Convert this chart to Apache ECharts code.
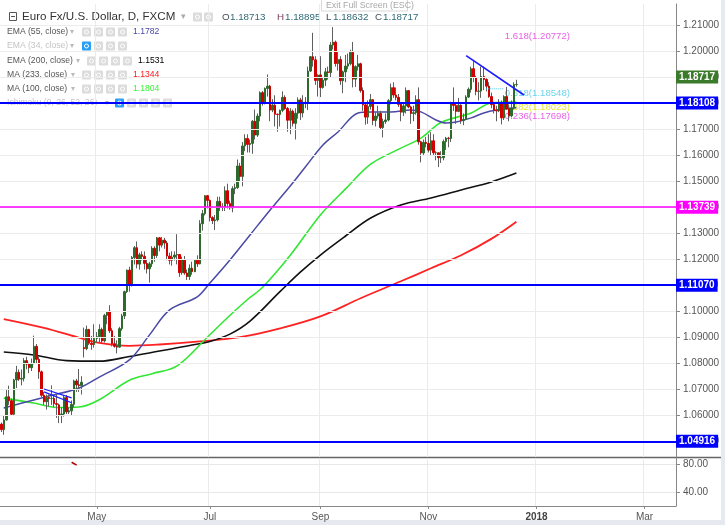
<!DOCTYPE html>
<html><head><meta charset="utf-8">
<script src="https://cdn.jsdelivr.net/npm/echarts@6/dist/echarts.min.js"></script>
<style>html,body{margin:0;padding:0;background:#fff;}#c{width:725px;height:525px;}</style>
</head><body><div id="c"></div>
<script>
// ---------- data ----------
const startDate = [2017, 2, 8];   // first weekday slot (Mar 8, 2017)
const totalSlots = 269;           // weekday slots up to mid-March 2018
// daily candles [open, high, low, close]
const candles = [
[1.0566,1.0572,1.0536,1.0545],[1.0545,1.0600,1.0525,1.0582],[1.0582,1.0699,1.0580,1.0671],[1.0671,1.0714,1.0640,1.0656],[1.0656,1.0664,1.0600,1.0604],
[1.0604,1.0740,1.0600,1.0736],[1.0736,1.0790,1.0705,1.0765],[1.0765,1.0776,1.0732,1.0739],[1.0739,1.0776,1.0715,1.0742],[1.0742,1.0820,1.0730,1.0810],
[1.0810,1.0825,1.0777,1.0797],[1.0797,1.0802,1.0762,1.0783],[1.0783,1.0818,1.0770,1.0799],[1.0799,1.0906,1.0796,1.0865],[1.0865,1.0874,1.0800,1.0815],
[1.0815,1.0825,1.0740,1.0767],[1.0767,1.0772,1.0670,1.0677],[1.0677,1.0690,1.0640,1.0652],[1.0652,1.0680,1.0622,1.0668],[1.0668,1.0680,1.0634,1.0665],
[1.0665,1.0715,1.0640,1.0665],[1.0665,1.0678,1.0632,1.0645],[1.0645,1.0680,1.0590,1.0642],[1.0640,1.0645,1.0570,1.0600],[1.0600,1.0630,1.0570,1.0605],
[1.0605,1.0677,1.0595,1.0668],[1.0668,1.0678,1.0605,1.0613],[1.0613,1.0630,1.0605,1.0617],[1.0617,1.0657,1.0598,1.0642],[1.0642,1.0737,1.0630,1.0732],
[1.0732,1.0740,1.0690,1.0717],[1.0717,1.0778,1.0690,1.0714],[1.0714,1.0750,1.0680,1.0727],[1.0860,1.0937,1.0822,1.0856],[1.0856,1.0945,1.0850,1.0930],
[1.0930,1.0932,1.0870,1.0877],[1.0877,1.0905,1.0852,1.0872],[1.0872,1.0950,1.0860,1.0895],[1.0895,1.0920,1.0880,1.0902],[1.0902,1.0950,1.0880,1.0930],
[1.0930,1.0937,1.0874,1.0886],[1.0886,1.0990,1.0880,1.0984],[1.0984,1.1000,1.0950,1.0996],[1.1000,1.1023,1.0916,1.0925],[1.0925,1.0935,1.0865,1.0875],
[1.0875,1.0905,1.0860,1.0865],[1.0865,1.0888,1.0838,1.0862],[1.0862,1.0940,1.0860,1.0933],[1.0933,1.0990,1.0925,1.0982],[1.0982,1.1079,1.0970,1.1075],
[1.1075,1.1160,1.1070,1.1158],[1.1158,1.1171,1.1075,1.1101],[1.1101,1.1212,1.1095,1.1206],[1.1206,1.1250,1.1180,1.1244],[1.1244,1.1268,1.1165,1.1181],
[1.1181,1.1225,1.1160,1.1217],[1.1217,1.1230,1.1195,1.1211],[1.1211,1.1230,1.1160,1.1184],[1.1184,1.1200,1.1145,1.1163],[1.1163,1.1190,1.1110,1.1182],
[1.1182,1.1250,1.1170,1.1242],[1.1242,1.1250,1.1190,1.1214],[1.1214,1.1285,1.1205,1.1282],[1.1282,1.1285,1.1230,1.1254],[1.1254,1.1285,1.1245,1.1273],
[1.1273,1.1282,1.1240,1.1262],[1.1262,1.1270,1.1196,1.1212],[1.1212,1.1225,1.1180,1.1196],[1.1196,1.1230,1.1175,1.1208],[1.1208,1.1230,1.1195,1.1216],
[1.1216,1.1296,1.1180,1.1218],[1.1218,1.1220,1.1132,1.1148],[1.1148,1.1210,1.1140,1.1197],[1.1197,1.1212,1.1140,1.1147],[1.1147,1.1160,1.1120,1.1133],
[1.1133,1.1180,1.1120,1.1165],[1.1165,1.1190,1.1140,1.1152],[1.1152,1.1200,1.1150,1.1196],[1.1196,1.1215,1.1170,1.1182],[1.1182,1.1350,1.1180,1.1336],
[1.1336,1.1389,1.1310,1.1375],[1.1375,1.1445,1.1368,1.1444],[1.1444,1.1446,1.1395,1.1426],[1.1426,1.1430,1.1345,1.1360],[1.1360,1.1365,1.1335,1.1348],
[1.1348,1.1370,1.1312,1.1351],[1.1351,1.1440,1.1345,1.1422],[1.1422,1.1440,1.1385,1.1399],[1.1399,1.1415,1.1385,1.1399],[1.1399,1.1480,1.1385,1.1463],
[1.1463,1.1490,1.1395,1.1414],[1.1414,1.1425,1.1390,1.1397],[1.1397,1.1480,1.1380,1.1471],[1.1471,1.1490,1.1450,1.1475],[1.1475,1.1583,1.1470,1.1558],
[1.1558,1.1570,1.1500,1.1518],[1.1518,1.1650,1.1480,1.1635],[1.1635,1.1680,1.1615,1.1664],[1.1664,1.1680,1.1610,1.1641],[1.1641,1.1660,1.1610,1.1645],
[1.1645,1.1735,1.1605,1.1730],[1.1730,1.1775,1.1660,1.1677],[1.1677,1.1760,1.1670,1.1750],[1.1750,1.1845,1.1730,1.1840],[1.1840,1.1846,1.1790,1.1802],
[1.1802,1.1860,1.1795,1.1856],[1.1856,1.1910,1.1825,1.1865],[1.1865,1.1870,1.1730,1.1773],[1.1773,1.1815,1.1765,1.1792],[1.1792,1.1830,1.1710,1.1757],
[1.1757,1.1760,1.1690,1.1756],[1.1756,1.1775,1.1710,1.1772],[1.1772,1.1845,1.1765,1.1822],[1.1822,1.1830,1.1774,1.1779],[1.1779,1.1785,1.1690,1.1734],
[1.1734,1.1780,1.1680,1.1769],[1.1769,1.1775,1.1710,1.1722],[1.1722,1.1780,1.1660,1.1761],[1.1761,1.1822,1.1740,1.1812],[1.1812,1.1820,1.1735,1.1762],
[1.1762,1.1830,1.1745,1.1803],[1.1803,1.1823,1.1780,1.1798],[1.1798,1.1940,1.1773,1.1923],[1.1923,1.1980,1.1920,1.1978],[1.1978,1.2070,1.1940,1.1966],
[1.1966,1.1980,1.1870,1.1887],[1.1887,1.1910,1.1825,1.1908],[1.1908,1.1980,1.1823,1.1860],[1.1860,1.1900,1.1855,1.1888],[1.1888,1.1935,1.1865,1.1920],
[1.1920,1.1940,1.1890,1.1917],[1.1917,1.2035,1.1900,1.2023],[1.2023,1.2092,1.2006,1.2034],[1.2034,1.2040,1.1940,1.1952],[1.1952,1.1998,1.1925,1.1967],
[1.1967,1.1980,1.1870,1.1886],[1.1886,1.1925,1.1838,1.1920],[1.1920,1.1985,1.1880,1.1942],[1.1942,1.1990,1.1930,1.1951],[1.1951,1.2005,1.1945,1.1995],
[1.1995,1.2035,1.1860,1.1892],[1.1892,1.1945,1.1862,1.1940],[1.1940,1.1985,1.1925,1.1951],[1.1951,1.1955,1.1840,1.1848],[1.1848,1.1860,1.1770,1.1793],
[1.1793,1.1800,1.1717,1.1746],[1.1746,1.1810,1.1720,1.1787],[1.1787,1.1835,1.1775,1.1813],[1.1813,1.1815,1.1715,1.1733],[1.1733,1.1765,1.1710,1.1750],
[1.1750,1.1790,1.1740,1.1760],[1.1760,1.1770,1.1700,1.1706],[1.1706,1.1740,1.1668,1.1729],[1.1729,1.1760,1.1720,1.1735],[1.1735,1.1815,1.1730,1.1809],
[1.1809,1.1875,1.1795,1.1859],[1.1859,1.1880,1.1820,1.1831],[1.1831,1.1860,1.1810,1.1822],[1.1822,1.1835,1.1785,1.1795],[1.1795,1.1800,1.1730,1.1765],
[1.1765,1.1800,1.1750,1.1789],[1.1789,1.1860,1.1760,1.1848],[1.1848,1.1850,1.1780,1.1785],[1.1785,1.1790,1.1720,1.1760],[1.1760,1.1790,1.1730,1.1763],
[1.1763,1.1830,1.1755,1.1813],[1.1813,1.1860,1.1640,1.1651],[1.1651,1.1655,1.1572,1.1608],[1.1608,1.1660,1.1600,1.1649],[1.1649,1.1670,1.1630,1.1645],
[1.1645,1.1680,1.1610,1.1619],[1.1619,1.1688,1.1600,1.1655],[1.1655,1.1680,1.1600,1.1609],[1.1609,1.1615,1.1580,1.1609],[1.1609,1.1610,1.1554,1.1590],
[1.1590,1.1615,1.1570,1.1590],[1.1590,1.1660,1.1580,1.1652],[1.1652,1.1670,1.1620,1.1665],[1.1665,1.1670,1.1630,1.1664],[1.1664,1.1805,1.1650,1.1797],
[1.1797,1.1860,1.1770,1.1791],[1.1791,1.1800,1.1720,1.1768],[1.1768,1.1820,1.1765,1.1792],[1.1792,1.1795,1.1720,1.1733],[1.1733,1.1760,1.1715,1.1737],
[1.1737,1.1830,1.1735,1.1823],[1.1823,1.1860,1.1820,1.1853],[1.1853,1.1940,1.1840,1.1932],[1.1932,1.1961,1.1880,1.1898],[1.1898,1.1905,1.1830,1.1845],
[1.1845,1.1880,1.1810,1.1846],[1.1846,1.1940,1.1820,1.1902],[1.1902,1.1940,1.1850,1.1891],[1.1891,1.1895,1.1845,1.1865],[1.1865,1.1880,1.1820,1.1825],
[1.1825,1.1840,1.1780,1.1794],[1.1794,1.1805,1.1760,1.1772],[1.1772,1.1790,1.1730,1.1770],[1.1770,1.1815,1.1765,1.1801],[1.1801,1.1810,1.1718,1.1743],
[1.1743,1.1830,1.1735,1.1825],[1.1825,1.1862,1.1775,1.1778],[1.1778,1.1795,1.1730,1.1751],[1.1751,1.1810,1.1745,1.1781],[1.1781,1.1880,1.1775,1.1871],
[1.18713,1.18895,1.18632,1.18717]
];
// moving averages: [bar index, value]
const ema55 = [[1,1.0628],[13,1.0659],[19,1.0674],[31,1.0705],[39,1.0747],[51,1.0813],[59,1.0909],[67,1.1005],[78,1.1055],[83,1.1108],[91,1.1197],[99,1.1293],[107,1.1389],[115,1.1481],[121,1.1554],[128,1.1639],[134,1.1689],[142,1.1762],[147,1.1766],[155,1.1766],[163,1.1773],[167,1.1766],[173,1.1735],[177,1.1723],[181,1.1727],[187,1.1743],[192,1.1762],[197,1.1773],[205,1.1782]];
const ema200 = [[1,1.0843],[13,1.0832],[26,1.0810],[39,1.0808],[51,1.0826],[63,1.0847],[75,1.0868],[83,1.0884],[91,1.0912],[99,1.0962],[111,1.1076],[119,1.1150],[127,1.1216],[137,1.1289],[147,1.1358],[159,1.1408],[171,1.1435],[183,1.1466],[195,1.1497],[205,1.1531]];
const ma233 = [[1,1.0970],[17,1.0936],[31,1.0898],[39,1.0878],[51,1.0867],[63,1.0872],[79,1.0884],[95,1.0900],[111,1.0934],[127,1.0980],[143,1.1050],[159,1.1115],[171,1.1165],[183,1.1215],[195,1.1278],[205,1.1344]];
const ma100 = [[1,1.0666],[13,1.0647],[22,1.0630],[31,1.0632],[39,1.0660],[51,1.0735],[60,1.0760],[70,1.0790],[82,1.0900],[90,1.0975],[98,1.1045],[104,1.1092],[115,1.1215],[127,1.1370],[137,1.1470],[147,1.1565],[158,1.1622],[167,1.1665],[175,1.1725],[187,1.1762],[195,1.1800],[205,1.1804]];
// drawings
const trendLine = [[185,1.1982],[208,1.1831]];
const flagTop = [[17,1.0701],[28,1.0667]];
const flagBottom = [[17,1.0690],[28,1.0648]];
const fibDotted = [[193,1.18548],[200,1.18548]];
const fibNames = ['1.618(1.20772)','0.618(1.18548)','0.382(1.18023)','0.236(1.17698)'];
const fibValues = [1.20772,1.18548,1.18023,1.17698];
const fibColors = ['#e23ae2','#45c8ea','#e0e000','#e23ae2'];
const fibAnchor = 200;
const levelValues = [1.18108,1.13739,1.11070,1.04916];
const levelColors = ['#0000ff','#ff00ff','#0000ff','#0000ff'];
const lastPrice = 1.18717;
const priceTicks = [1.05,1.06,1.07,1.08,1.09,1.10,1.11,1.12,1.13,1.14,1.15,1.16,1.17,1.18,1.19,1.20,1.21];
const indTicks = [40,80];
const indicator = [[28,82.5],[30,78.5]];
const monthLabels = {'2017-05':'May','2017-07':'Jul','2017-09':'Sep','2017-11':'Nov','2018-01':'2018','2018-03':'Mar'};

// ---------- build ----------
const categories = [];
(function(){ const d = new Date(Date.UTC(startDate[0],startDate[1],startDate[2]));
  while (categories.length < totalSlots) { const w = d.getUTCDay(); if (w!==0 && w!==6) categories.push(d.toISOString().slice(0,10)); d.setUTCDate(d.getUTCDate()+1); } })();
const labelIdx = new Set();
(function(){ const seen = {}; categories.forEach((c,i)=>{ const m = c.slice(0,7); if (monthLabels[m] && !seen[m]) { seen[m]=1; labelIdx.add(i); } }); })();
const showAt = (i) => labelIdx.has(i);

const FONT = "'Liberation Sans', Arial, sans-serif";
const wickData = candles.map(c => [c[0], c[3], c[2], c[1]]);
const bodyData = candles.map(c => [c[0], c[3], Math.min(c[0],c[3]), Math.max(c[0],c[3])]);

const hLines = levelValues.map((v,i)=>({yAxis:v, lineStyle:{color:levelColors[i], width: levelColors[i]==='#ff00ff'?1.5:2, type:'solid'},
  label:{show:true, position:'end', distance:0, formatter: () => v.toFixed(5), color:'#fff', backgroundColor:levelColors[i], padding:[2,3,1,3], fontSize:10, fontWeight:'bold', fontFamily:FONT}}));
hLines.push({yAxis:lastPrice, lineStyle:{color:'rgba(0,0,0,0)', width:0},
  label:{show:true, position:'end', distance:0, formatter: () => lastPrice.toFixed(5), color:'#fff', backgroundColor:'#3b7a2b', padding:[2,3,1,3], fontSize:10, fontWeight:'bold', fontFamily:FONT}});

function maLine(name, data, color, w){ return {name, type:'line', data, symbol:'none', smooth:0.35, z:2, silent:true, lineStyle:{color, width:w||1.5}, xAxisIndex:0, yAxisIndex:0}; }

// legend / header graphics
const g = [];
function txt(x,y,t,fill,size,extra){ g.push(Object.assign({type:'text', x, y, silent:true, style:{text:t, fill, font: (size||9)+'px '+FONT, textVerticalAlign:'middle'}}, extra||{})); }
function icon(x,y,blue){ g.push({type:'rect', silent:true, shape:{x, y:y-4.5, width:9, height:9, r:1}, style:{fill: blue?'#2a9df4':'#dcdcdc'}});
  g.push({type:'circle', silent:true, shape:{cx:x+4.5, cy:y, r:2}, style:{fill:'none', stroke:'#fff', lineWidth:1}}); }
// header
g.push({type:'rect', silent:true, shape:{x:9.5,y:12.5,width:7,height:8}, style:{fill:'none', stroke:'#555', lineWidth:1}});
g.push({type:'line', silent:true, shape:{x1:11,y1:16.5,x2:15,y2:16.5}, style:{stroke:'#555', lineWidth:1}});
txt(22,17,'Euro Fx/U.S. Dollar, D, FXCM','#333',11.6);
txt(181,17,'▾','#aaa',9);
icon(193,17); icon(204,17);
txt(222,17,'O','#4a4a5a',9.8); txt(230,17,'1.18713','#2f6b78',9.8);
txt(277,17,'H','#7a3f5f',9.8); txt(285,17,'1.18895','#2f6b78',9.8);
txt(326,17,'L','#3d5060',9.8); txt(333,17,'1.18632','#2f6b78',9.8);
txt(375,17,'C','#3d5060',9.8); txt(383,17,'1.18717','#2f6b78',9.8);
// indicator rows
const rows = [
 {t:'EMA (55, close)', y:32, dd:70, ic:[82,94,106,118], val:'1.1782', vx:133, vc:'#4848a8'},
 {t:'EMA (34, close)', y:46, dd:70, ic:[82,94,106,118], dis:true},
 {t:'EMA (200, close)', y:61, dd:76, ic:[87,99,111,123], val:'1.1531', vx:138, vc:'#000'},
 {t:'MA (233, close)', y:75, dd:71, ic:[82,94,106,118], val:'1.1344', vx:133, vc:'#ff1a1a'},
 {t:'MA (100, close)', y:89, dd:71, ic:[82,94,106,118], val:'1.1804', vx:133, vc:'#3cf03c'},
 {t:'Ichimoku (9, 26, 52, 26)', y:103, dd:105, ic:[115,127,139,151,163], dis:true}
];
rows.forEach(r=>{ txt(7,r.y,r.t, r.dis?'#c4c4c4':'#555',8.6); txt(r.dd,r.y,'▾','#bbb',8);
  r.ic.forEach((x,k)=>icon(x,r.y, r.dis && k===0)); if (r.val) txt(r.vx,r.y,r.val,r.vc,8.6); });
// exit full screen tooltip
g.push({type:'rect', silent:true, shape:{x:321.5,y:-1,width:86,height:12}, style:{fill:'#fff', stroke:'#d8d8d8', lineWidth:1}});
txt(326,5.5,'Exit Full Screen (ESC)','#a8a8a8',8.8);
// separators / frame
g.push({type:'line', silent:true, shape:{x1:0,y1:457.5,x2:725,y2:457.5}, style:{stroke:'#666', lineWidth:1.5}});
g.push({type:'rect', silent:true, shape:{x:721,y:0,width:4,height:525}, style:{fill:'#e6e9ef'}});
g.push({type:'rect', silent:true, shape:{x:0,y:520,width:725,height:5}, style:{fill:'#e6e9ef'}});

const chart = echarts.init(document.getElementById('c'), null, {renderer:'canvas'});
chart.setOption({
  animation:false,
  backgroundColor:'#fff',
  textStyle:{fontFamily:FONT},
  grid:[{left:0,right:49,top:4,bottom:68},{left:0,right:49,top:458,bottom:19}],
  xAxis:[
    {type:'category', gridIndex:0, data:categories, boundaryGap:true, axisLine:{show:false}, axisTick:{show:false}, axisLabel:{show:false},
     splitLine:{show:true, interval:(i)=>showAt(i), lineStyle:{color:'#ebebeb', width:1}}},
    {type:'category', gridIndex:1, data:categories, boundaryGap:true, axisLine:{show:true, lineStyle:{color:'#888'}},
     axisTick:{show:true, alignWithLabel:true, interval:(i)=>showAt(i), length:3, lineStyle:{color:'#888'}},
     axisLabel:{show:true, interval:(i)=>showAt(i), margin:6, color:'#555', fontSize:10, fontFamily:FONT,
       formatter:(v)=>{ const t = monthLabels[v.slice(0,7)]||''; return t==='2018' ? '{b|2018}' : t; }, rich:{b:{fontWeight:'bold', color:'#444', fontSize:10, fontFamily:FONT}}},
     splitLine:{show:true, interval:(i)=>showAt(i), lineStyle:{color:'#ebebeb', width:1}}}
  ],
  yAxis:[
    {type:'value', gridIndex:0, position:'right', min:1.04397, max:1.21807, scale:true,
     axisLine:{show:true, lineStyle:{color:'#888'}}, axisTick:{show:true, customValues:priceTicks, length:4, lineStyle:{color:'#888'}},
     axisLabel:{show:true, customValues:priceTicks, formatter:(v)=>v.toFixed(5), color:'#555', fontSize:10, margin:7, fontFamily:FONT},
     splitLine:{show:false}},
    {type:'value', gridIndex:1, position:'right', min:20.6, max:88.5,
     axisLine:{show:true, lineStyle:{color:'#888'}}, axisTick:{show:true, customValues:indTicks, length:4, lineStyle:{color:'#888'}},
     axisLabel:{show:true, customValues:indTicks, formatter:(v)=>v.toFixed(2), color:'#555', fontSize:10, margin:7, fontFamily:FONT},
     splitLine:{show:false}}
  ],
  graphic:g,
  series:[
    {type:'line', xAxisIndex:0, yAxisIndex:0, data:[], z:0, silent:true,
     markLine:{silent:true, symbol:['none','none'], animation:false, label:{show:false}, lineStyle:{color:'#ececec', width:1, type:'solid'}, data:priceTicks.map(v=>({yAxis:v}))}},
    {type:'line', xAxisIndex:1, yAxisIndex:1, data:[], z:0, silent:true,
     markLine:{silent:true, symbol:['none','none'], animation:false, label:{show:false}, lineStyle:{color:'#e8e8e8', width:1, type:'solid'}, data:indTicks.map(v=>({yAxis:v}))}},
    {type:'scatter', xAxisIndex:0, yAxisIndex:0, z:1, silent:true, symbolSize:0,
     data: fibValues.map((v,i)=>({value:[fibAnchor, v], label:{show:true, position:'right', distance:1, offset:[0,5], formatter:fibNames[i], color:fibColors[i], fontSize:9.6, fontFamily:FONT}}))},
    maLine('ma233', ma233, '#ff2222', 1.8),
    maLine('ema200', ema200, '#111111', 1.6),
    maLine('ma100', ma100, '#33e633', 1.6),
    maLine('ema55', ema55, '#4a4aa6', 1.5),
    {type:'candlestick', xAxisIndex:0, yAxisIndex:0, data:wickData, barWidth:1, z:3, silent:true,
     itemStyle:{color:'#5f5f5f', color0:'#5f5f5f', borderColor:'#5f5f5f', borderColor0:'#5f5f5f', borderWidth:1}},
    {type:'candlestick', xAxisIndex:0, yAxisIndex:0, data:bodyData, barWidth:2, z:4, silent:true,
     itemStyle:{color:'#2d6b2d', color0:'#d00000', borderColor:'#2d6b2d', borderColor0:'#d00000', borderWidth:1}},
    {type:'line', xAxisIndex:0, yAxisIndex:0, data:fibDotted, symbol:'none', z:5, silent:true, lineStyle:{color:'#45c8ea', width:1, type:'dotted'}},
    {type:'line', xAxisIndex:0, yAxisIndex:0, data:trendLine, symbol:'none', z:5, silent:true, lineStyle:{color:'#1a1aff', width:1.6}},
    {type:'line', xAxisIndex:0, yAxisIndex:0, data:flagTop, symbol:'none', z:5, silent:true, lineStyle:{color:'#1a1aff', width:1.2}},
    {type:'line', xAxisIndex:0, yAxisIndex:0, data:flagBottom, symbol:'none', z:5, silent:true, lineStyle:{color:'#1a1aff', width:1.2}},
    {type:'line', xAxisIndex:0, yAxisIndex:0, data:[], z:6, silent:true,
     markLine:{silent:true, symbol:['none','none'], animation:false, data:hLines}},
    {type:'line', xAxisIndex:1, yAxisIndex:1, data:indicator, symbol:'none', z:5, silent:true, lineStyle:{color:'#b00000', width:1.5}}
  ]
});
</script></body></html>
